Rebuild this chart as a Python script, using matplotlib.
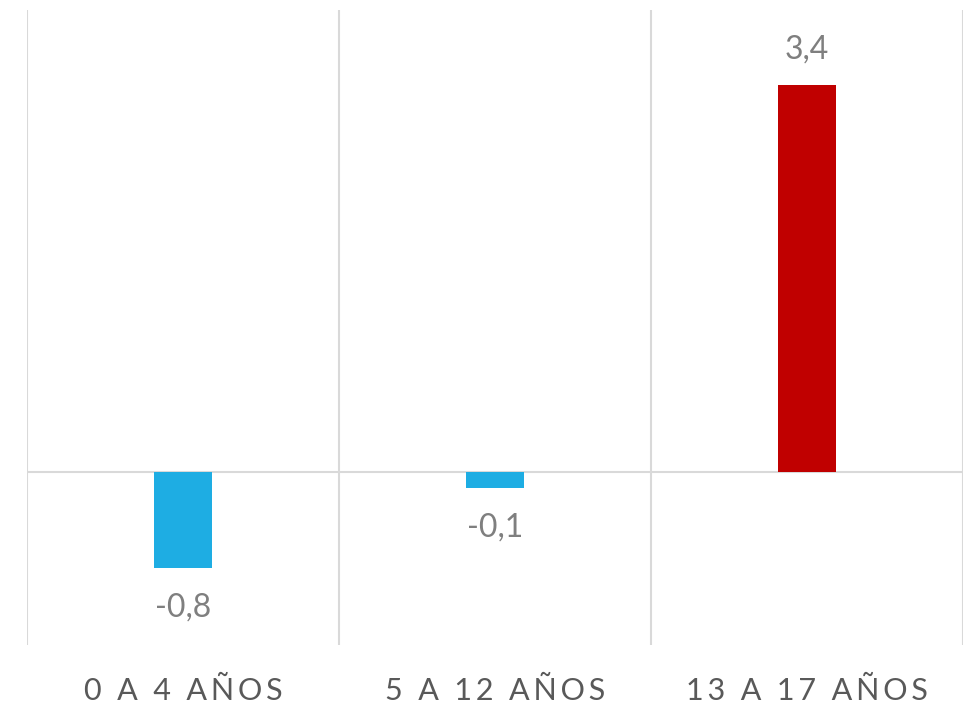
import matplotlib
matplotlib.use("Agg")
import matplotlib.pyplot as plt
import numpy as np

categories = ["0 A 4 AÑOS", "5 A 12 AÑOS", "13 A 17 AÑOS"]
values = [-0.83, -0.14, 3.35]
colors = ["#1EADE3", "#1EADE3", "#C00000"]

plt.rcParams['font.family'] = ['Lato', 'DejaVu Sans']

fig = plt.figure(figsize=(9.76, 7.09), dpi=100)
ax = fig.add_axes([27/976, 1-645/709, (963-27)/976, (645-10)/709])

x = np.arange(len(categories))
ax.bar(x, values, width=0.185, color=colors, zorder=3)

ax.set_xlim(-0.5, len(categories) - 0.5)
ax.set_ylim(-1.5, 4.0)

for s in ax.spines.values():
    s.set_visible(False)
ax.set_yticks([])
ax.set_xticks(x)
ax.set_xticks(np.arange(-0.5, len(categories), 1.0), minor=True)
ax.grid(True, which="minor", axis="x", color="#D9D9D9", lw=1.5, zorder=0)
ax.tick_params(axis="x", which="both", length=0)
ax.axhline(0, color="#D9D9D9", lw=1.5, zorder=2)

def spaced(t):
    return "\u2009".join(t)

ax.set_xticklabels([spaced(c) for c in categories], fontsize=22, color="#595959")
ax.tick_params(axis="x", which="major", pad=23)

for xi, v in zip(x, values):
    lab = f"{v:.1f}".replace(".", ",")
    if v >= 0:
        ax.annotate(lab, (xi, v), xytext=(0, 15), textcoords="offset points",
                    ha="center", va="bottom", fontsize=23, color="#7F7F7F")
    else:
        ax.annotate(lab, (xi, v), xytext=(0, -18), textcoords="offset points",
                    ha="center", va="top", fontsize=23, color="#7F7F7F")

fig.savefig("out.png", dpi=100)
